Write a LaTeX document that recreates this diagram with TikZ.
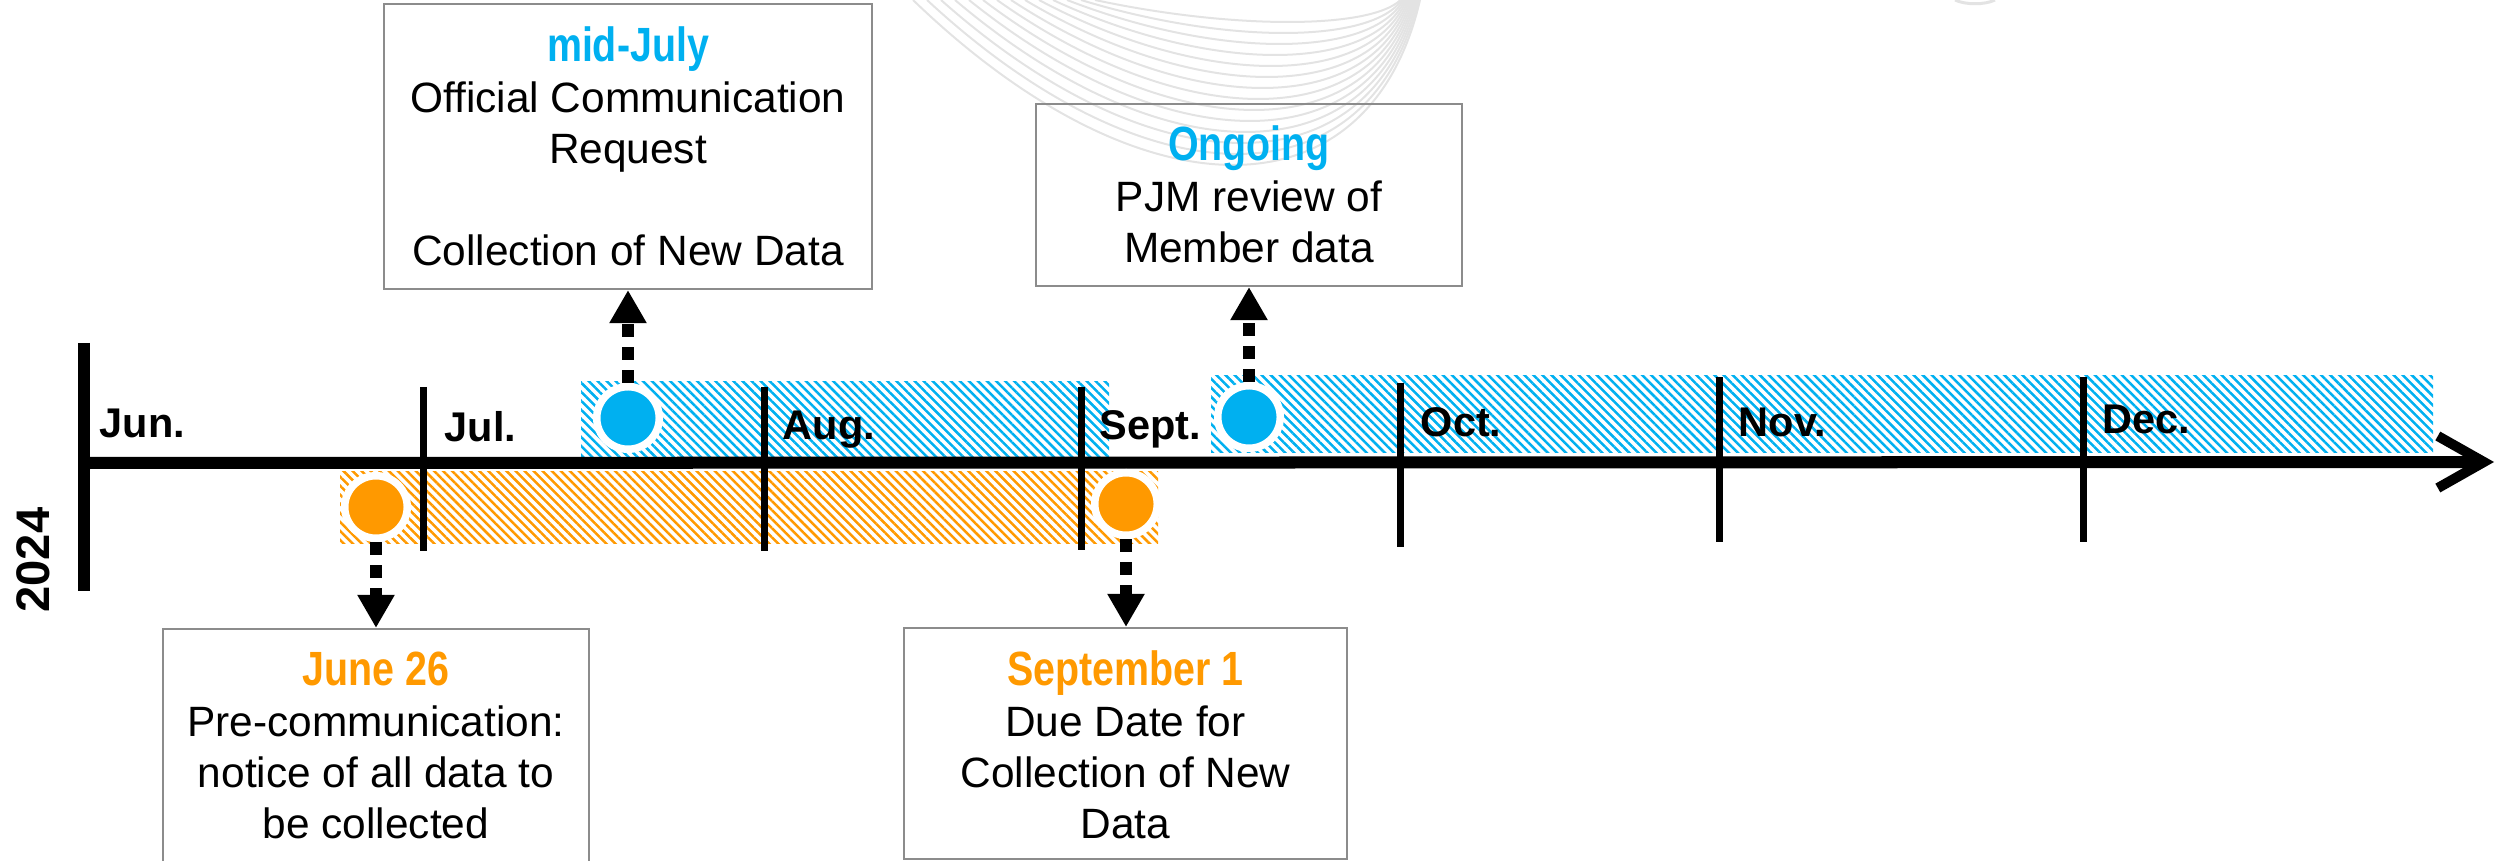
\documentclass[tikz,border=0pt]{standalone}
\usepackage{fontspec}
\setmainfont{Liberation Sans}
\newfontfamily\narrowfont{Liberation Sans}[FakeStretch=0.82]
\usetikzlibrary{arrows.meta,patterns.meta,shadows}
\definecolor{pjmblue}{HTML}{00B0F0}
\definecolor{pjmorange}{HTML}{FF9900}
\definecolor{boxgray}{HTML}{8C8C8C}
\definecolor{swooshgray}{HTML}{E3E3E3}
\newcommand\datetitle[2]{{\color{#1}\narrowfont\bfseries\fontsize{13.66pt}{14.5pt}\selectfont #2}}
\tikzset{
  swooshline/.style={draw=swooshgray, line width=0.02cm},
  infobox/.style={draw=boxgray, line width=0.02cm, inner sep=0},
  boxtext/.style={anchor=north, align=center, inner sep=0, font=\fontsize{12.06pt}{14.5pt}\selectfont},
  monthlab/.style={anchor=base west, inner sep=0, font=\bfseries\fontsize{11.8pt}{14pt}\selectfont},
  tickline/.style={line width=0.07cm},
  dot/.style={circle, fill=#1, draw=white, line width=0.075cm, minimum size=0.625cm, inner sep=0,
    circular drop shadow={shadow xshift=0pt, shadow yshift=-0.03cm, opacity=0.35, shadow scale=1.03}},
  darr/.style={line width=0.12cm, dash pattern=on 0.13cm off 0.1cm, -{Triangle[length=0.33cm,width=0.35cm]}},
  hatch/.style={pattern={Lines[angle=-45,distance=0.064cm,line width=0.025cm]}, pattern color=#1}
}
\begin{document}
\begin{tikzpicture}[x=0.01cm, y=-0.01cm]
\useasboundingbox (0,0) rectangle (2506,861);
\clip (0,0) rectangle (2506,861);
% decorative background swoosh
\foreach \i in {0,...,13}{
  \pgfmathsetmacro\sx{913+14*\i}
  \pgfmathsetmacro\ex{1420-1.5*\i}
  \pgfmathsetmacro\h{1.333*(165-11*\i)}
  \pgfmathsetmacro\ca{\sx+0.45*(\ex-\sx)}
  \pgfmathsetmacro\cb{\sx+0.9*(\ex-\sx)}
  \draw[swooshline] (\sx,0) .. controls (\ca,\h) and (\cb,\h) .. (\ex,0);
}
\draw[swooshline, line width=0.03cm] (1955,0) .. controls (1965,5) and (1985,5) .. (1995,0);
% hatched bands
\path[hatch=pjmorange] (340,472) rectangle (1158,543);
\path[hatch=pjmblue] (581,382) rectangle (1109,458);
\path[hatch=pjmblue] (1211,376) rectangle (2433,453);
% axis
\coordinate (axL) at (84,463);
\coordinate (axR) at (2494,462);
\draw[line width=0.12cm, -{Straight Barb[length=0.46cm,width=0.52cm,line width=0.1cm]}] (axL) -- (axR);
\draw[line width=0.12cm] (84,343) -- (84,591);
\foreach \x/\t/\b in {423/387/551, 764/387/551, 1081/387/550, 1400/383/547, 1719/377/542, 2083/377/542}
  \draw[tickline] (\x,\t) -- (\x,\b);
% month labels
\node[monthlab] (mjun) at (99,438) {Jun.};
\node[monthlab] (mjul) at (444,442) {Jul.};
\node[monthlab] (maug) at (782,440) {Aug.};
\node[monthlab] (msep) at (1099,440) {Sept.};
\node[monthlab] (moct) at (1420,436) {Oct.};
\node[monthlab] (mnov) at (1738,436) {Nov.};
\node[monthlab] (mdec) at (2102,433) {Dec.};
\node[rotate=90, inner sep=0, font=\bfseries\fontsize{13.4pt}{16pt}\selectfont] (yr) at (33,560) {2024};
% boxes
\node[infobox, minimum width=4.88cm, minimum height=2.85cm] (bmj) at (628,146.5) {};
\node[boxtext] (tmj) at (628,26) {\datetitle{pjmblue}{mid-July}\\Official Communication\\Request\\[14.5pt]Collection of New Data};
\node[infobox, minimum width=4.26cm, minimum height=1.82cm] (bon) at (1249,195) {};
\node[boxtext] (ton) at (1249,125) {\datetitle{pjmblue}{Ongoing}\\PJM review of\\Member data};
\node[infobox, minimum width=4.26cm, minimum height=2.6cm] (bjn) at (376,759) {};
\node[boxtext] (tjn) at (376,651) {\datetitle{pjmorange}{June 26}\\Pre-communication:\\notice of all data to\\be collected};
\node[infobox, minimum width=4.43cm, minimum height=2.31cm] (bsp) at (1125.5,743.5) {};
\node[boxtext] (tsp) at (1125.5,650) {\datetitle{pjmorange}{September 1}\\Due Date for\\Collection of New\\Data};
% dots
\node[dot=pjmorange] (o1) at (376,507) {};
\node[dot=pjmorange] (o2) at (1126,504) {};
\node[dot=pjmblue] (c1) at (628,418) {};
\node[dot=pjmblue] (c2) at (1249,417) {};
% dashed arrows
\draw[darr] (o1.south) -- (o1.south |- bjn.north);
\draw[darr] (o2.south) -- (o2.south |- bsp.north);
\draw[darr] (c1.north) -- (c1.north |- bmj.south);
\draw[darr] (c2.north) -- (c2.north |- bon.south);
\end{tikzpicture}
\end{document}
